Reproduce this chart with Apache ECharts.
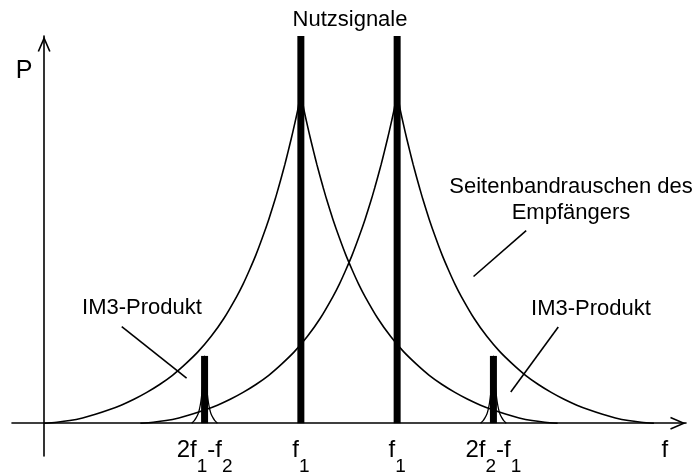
<!DOCTYPE html>
<html>
<head>
<meta charset="utf-8">
<script src="https://cdn.jsdelivr.net/npm/echarts@6/dist/echarts.min.js"></script>
<style>
html,body{margin:0;padding:0;background:#fff}
#main{width:698px;height:473px}
</style>
</head>
<body>
<div id="main"></div>
<script>
// carriers and IM3 products on the f axis
const signalX = [40, 55]
const signalHeight = [118, 118]
const im3X = [25, 70]
const im3Height = [20.5, 20.5]

// sideband noise around a carrier (offset from carrier, level)
const noiseOffset = [-40,-38,-36,-34,-32,-30,-28,-26,-24,-22,-20,-18,-16,-14,-12,-10,-9,-8,-7,-6,-5,-4,-3.5,-3,-2.5,-2,-1.5,-1,-0.5,0,0.5,1,1.5,2,2.5,3,3.5,4,5,6,7,8,9,10,12,14,16,18,20,22,24,26,28,30,32,34,36,38,40]
const noiseLevel = [0,0.3,0.8,1.6,2.7,4.0,5.5,7.3,9.4,11.8,14.6,18.0,21.8,26.4,31.9,38.6,42.4,46.7,51.3,56.5,62.1,68.3,71.7,75.2,78.8,82.7,86.7,90.9,95.3,100,95.3,90.9,86.7,82.7,78.8,75.2,71.7,68.3,62.1,56.5,51.3,46.7,42.4,38.6,31.9,26.4,21.8,18.0,14.6,11.8,9.4,7.3,5.5,4.0,2.7,1.6,0.8,0.3,0]

// small skirt around each IM3 line
const im3Offset = [-2,-1.6,-1.3,-1,-0.8,-0.6,-0.4,-0.2,0,0.2,0.4,0.6,0.8,1,1.3,1.6,2]
const im3Level = [0,0.8,1.7,2.9,4.3,6.3,9.3,13.6,20.5,13.6,9.3,6.3,4.3,2.9,1.7,0.8,0]

// leader lines of the annotations
const leaderX = [[12.1, 22.2], [80.1, 72.7], [75.1, 66.9]]
const leaderY = [[29.4, 13.7], [29.3, 9.5], [58.7, 44.7]]

// tick labels under the f axis
const tickValues = [25, 40, 55, 70, 96.7]
const tickLabels = ['{m|2f}{s|1}{m|-f}{s|2}', '{m|f}{s|1}', '{m|f}{s|1}', '{m|2f}{s|2}{m|-f}{s|1}', '{m|f}']

const FONT = '"Liberation Sans", Arial, sans-serif'
const arrowPath = 'path://M6.5,0 L13,15 L11.5,15.6 L6.5,4 L1.5,15.6 L0,15 Z'

function shape(center, offs, lev) {
  return offs.map((o, i) => [center + o, lev[i]])
}

const series = []

signalX.forEach(c => {
  series.push({
    type: 'line',
    data: shape(c, noiseOffset, noiseLevel),
    showSymbol: false,
    smooth: 0.3,
    lineStyle: {color: '#000', width: 1.6},
    z: 1
  })
})

im3X.forEach(c => {
  series.push({
    type: 'line',
    data: shape(c, im3Offset, im3Level),
    showSymbol: false,
    smooth: 0.3,
    lineStyle: {color: '#000', width: 1.3},
    z: 1
  })
})

leaderX.forEach((xs, i) => {
  series.push({
    type: 'line',
    data: xs.map((x, j) => [x, leaderY[i][j]]),
    showSymbol: false,
    lineStyle: {color: '#000', width: 1.6},
    z: 1
  })
})

series.push({
  type: 'bar',
  barWidth: 7,
  itemStyle: {color: '#000'},
  data: [
    [im3X[0], im3Height[0]],
    [signalX[0], signalHeight[0]],
    [signalX[1], signalHeight[1]],
    [im3X[1], im3Height[1]]
  ],
  z: 3
})

const option = {
  animation: false,
  backgroundColor: '#fff',
  grid: {left: 12, right: 12, top: 36, bottom: 17, containLabel: false, outerBoundsMode: 'none'},
  xAxis: {
    type: 'value',
    min: -5,
    max: 100,
    splitLine: {show: false},
    axisTick: {show: false},
    axisLine: {
      onZero: true,
      symbol: ['none', arrowPath],
      symbolSize: [13, 16],
      symbolOffset: [0, -8],
      lineStyle: {color: '#000', width: 1.6}
    },
    axisLabel: {
      customValues: tickValues,
      margin: -18,
      formatter: function (v) {
        const i = tickValues.findIndex(t => Math.abs(t - v) < 0.01)
        return i < 0 ? '' : tickLabels[i]
      },
      rich: {
        m: {fontSize: 24, lineHeight: 24, verticalAlign: 'top', color: '#000', fontFamily: FONT},
        s: {fontSize: 19, lineHeight: 19, verticalAlign: 'top', padding: [19, 0, 0, 0], color: '#000', fontFamily: FONT}
      }
    }
  },
  yAxis: {
    type: 'value',
    min: -10,
    max: 118,
    splitLine: {show: false},
    axisTick: {show: false},
    axisLabel: {show: false},
    axisLine: {
      show: true,
      onZero: true,
      symbol: ['none', arrowPath],
      symbolSize: [13, 16],
      symbolOffset: [0, -8],
      lineStyle: {color: '#000', width: 1.6}
    }
  },
  graphic: [
    {type: 'text', x: 24, y: 71, style: {text: 'P', font: '25px ' + FONT, fill: '#000', align: 'center', verticalAlign: 'middle'}},
    {type: 'text', x: 350, y: 20, style: {text: 'Nutzsignale', font: '22px ' + FONT, fill: '#000', align: 'center', verticalAlign: 'middle'}},
    {type: 'text', x: 142, y: 308, style: {text: 'IM3-Produkt', font: '22px ' + FONT, fill: '#000', align: 'center', verticalAlign: 'middle'}},
    {type: 'text', x: 591, y: 309, style: {text: 'IM3-Produkt', font: '22px ' + FONT, fill: '#000', align: 'center', verticalAlign: 'middle'}},
    {type: 'text', x: 571, y: 199.5, style: {text: 'Seitenbandrauschen des\nEmpfängers', font: '22px ' + FONT, lineHeight: 26, fill: '#000', align: 'center', verticalAlign: 'middle'}}
  ],
  series: series
}

echarts.init(document.getElementById('main')).setOption(option)
</script>
</body>
</html>
